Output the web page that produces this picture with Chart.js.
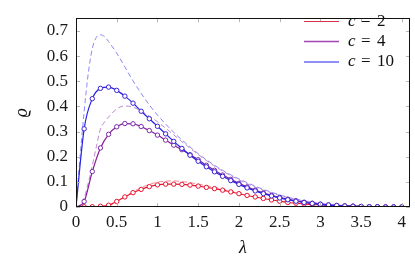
<!DOCTYPE html>
<html><head><meta charset="utf-8">
<script src="https://cdn.jsdelivr.net/npm/chart.js@4.4.1/dist/chart.umd.min.js"></script>
<style>html,body{margin:0;padding:0;background:#fff;overflow:hidden}#wrap{width:415px;height:259px;position:relative}
.fp{position:absolute;left:-999px;top:0;font-family:"Liberation Serif";font-size:16px}</style>
</head><body><div id="wrap"><canvas id="c" width="415" height="259"></canvas></div>
<span class="fp">0.5 c = 2</span><span class="fp" style="font-style:italic">c λ ϱ</span>
<script>
// ---- data ----
const lambda = [0,0.1,0.2,0.3,0.4,0.5,0.6,0.7,0.8,0.9,1.0,1.1,1.2,1.3,1.4,1.5,1.6,1.7,1.8,1.9,2.0,2.1,2.2,2.3,2.4,2.5,2.6,2.7,2.8,2.9,3.0,3.1,3.2,3.3,3.4,3.5,3.6,3.7,3.8,3.9,4.0];
const rhoC10 = [0,0.311,0.431,0.472,0.477,0.464,0.441,0.413,0.381,0.351,0.321,0.291,0.261,0.233,0.206,0.182,0.160,0.140,0.122,0.105,0.090,0.076,0.064,0.053,0.044,0.036,0.029,0.023,0.018,0.014,0.011,0.008,0.006,0.004,0.003,0.002,0.001,0.001,0,0,0];
const rhoC4 = [0,0.022,0.141,0.235,0.289,0.319,0.332,0.331,0.320,0.304,0.286,0.266,0.246,0.228,0.208,0.188,0.166,0.146,0.127,0.110,0.094,0.080,0.067,0.056,0.046,0.038,0.031,0.025,0.019,0.015,0.011,0.008,0.006,0.004,0.003,0.002,0.001,0.001,0,0,0];
const rhoC2 = [0,0.001,0.001,0.003,0.007,0.022,0.040,0.057,0.070,0.081,0.088,0.091,0.091,0.090,0.087,0.083,0.078,0.073,0.067,0.060,0.053,0.046,0.040,0.034,0.028,0.023,0.018,0.015,0.012,0.010,0.008,0.006,0.005,0.004,0.003,0.002,0.001,0.001,0,0,0];

const lambdaDash = [0,0.05,0.1,0.15,0.2,0.25,0.3,0.35,0.4,0.5,0.6,0.7,0.8,0.9,1.0,1.1,1.2,1.3,1.4,1.5,1.6,1.7,1.8,1.9,2.0,2.1,2.2,2.3,2.4,2.5,2.6,2.7,2.8,2.9,3.0,3.1,3.2,3.3,3.4,3.5,3.6,3.7,3.8,3.9,4.0];
const rhoC10Dash = [0,0.20,0.38,0.53,0.63,0.675,0.685,0.678,0.658,0.612,0.557,0.502,0.452,0.406,0.366,0.330,0.297,0.267,0.239,0.212,0.188,0.166,0.146,0.128,0.112,0.097,0.083,0.070,0.059,0.048,0.039,0.031,0.025,0.019,0.015,0.011,0.008,0.006,0.004,0.003,0.002,0.001,0.001,0,0];
const rhoC4Dash = [0,0.005,0.035,0.095,0.165,0.24,0.31,0.338,0.358,0.390,0.402,0.397,0.382,0.362,0.339,0.314,0.287,0.260,0.234,0.209,0.185,0.163,0.143,0.125,0.108,0.093,0.079,0.067,0.056,0.046,0.038,0.030,0.024,0.019,0.014,0.011,0.008,0.006,0.004,0.003,0.002,0.001,0.001,0,0];
const rhoC2Dash = [0,0,0,0,0,0,0.001,0.002,0.005,0.020,0.041,0.061,0.077,0.090,0.099,0.103,0.104,0.101,0.097,0.091,0.085,0.078,0.071,0.064,0.057,0.050,0.044,0.038,0.032,0.027,0.022,0.018,0.015,0.012,0.009,0.007,0.005,0.004,0.003,0.002,0.001,0.001,0,0,0];

const xTicks = [0,0.5,1,1.5,2,2.5,3,3.5,4];
const yTicks = [0,0.1,0.2,0.3,0.4,0.5,0.6,0.7];
const xTickLabels = ['0','0.5','1','1.5','2','2.5','3','3.5','4'];
const yTickLabels = ['0','0.1','0.2','0.3','0.4','0.5','0.6','0.7'];
const cValues = ['2','4','10'];
const xTitle = 'λ';
const yTitle = 'ϱ';

// ---- styles ----
const COL = {
  c10: '#2323e8', c10m: '#3a22d4', c10d: '#7c7cf2', c10l: '#8f8ff6',
  c4: '#861c99', c4m: '#7a2aa8', c4d: '#b77cc8', c4l: '#a446b4',
  c2: '#e8122e', c2m: '#e8122e', c2d: '#f07d8d', c2l: '#d9304a'
};
const serif = '"Liberation Serif", "DejaVu Serif", serif';

function pts(xs, ys){ return xs.map((x,i)=>({x:x, y:ys[i]})); }
function solid(label, ys, col, mcol, w){
  return {label, data: pts(lambda, ys), borderColor: col, borderWidth: w,
    pointRadius: c => c.dataIndex === 0 ? 0 : 2.2, pointBorderColor: mcol, pointBackgroundColor: '#fff',
    pointBorderWidth: 1, cubicInterpolationMode: 'monotone', fill: false};
}
function dashed(label, ys, col){
  return {label, data: pts(lambdaDash, ys), borderColor: col, borderWidth: 0.9, borderDash: [5,3],
    pointRadius: 0, cubicInterpolationMode: 'monotone', fill: false};
}

const frameTicks = {
  id: 'frameTicks',
  afterDatasetsDraw(chart){
    const {ctx, chartArea: a, scales: {x, y}} = chart;
    ctx.save();
    ctx.lineWidth = 1; ctx.strokeStyle = '#b8b8b8';
    const L = 4;
    ctx.beginPath();
    xTicks.forEach(v => { const p = Math.round(x.getPixelForValue(v)) + 0.5;
      ctx.moveTo(p, a.bottom); ctx.lineTo(p, a.bottom - L); ctx.moveTo(p, a.top); ctx.lineTo(p, a.top + L); });
    yTicks.forEach(v => { const p = Math.round(y.getPixelForValue(v)) + 0.5;
      ctx.moveTo(a.left, p); ctx.lineTo(a.left + L, p); ctx.moveTo(a.right, p); ctx.lineTo(a.right - L, p); });
    ctx.stroke();
    ctx.strokeStyle = '#111'; ctx.lineWidth = 1;
    ctx.strokeRect(Math.round(a.left) + 0.5, Math.round(a.top) + 0.5, Math.round(a.right - a.left) - 1, Math.round(a.bottom - a.top) - 1);
    ctx.restore();
  }
};

const texLegend = {
  id: 'texLegend',
  afterDraw(chart){
    const {ctx, chartArea: a} = chart;
    const items = [
      {v: cValues[0], col: COL.c2l, w: 1.0, y: 21.5},
      {v: cValues[1], col: COL.c4l, w: 1.6, y: 41.5},
      {v: cValues[2], col: COL.c10l, w: 1.8, y: 62}
    ];
    ctx.save();
    items.forEach(it => {
      ctx.strokeStyle = it.col; ctx.lineWidth = it.w;
      ctx.beginPath(); ctx.moveTo(a.right - 106, it.y); ctx.lineTo(a.right - 71, it.y); ctx.stroke();
      ctx.fillStyle = '#111'; ctx.textBaseline = 'middle'; ctx.textAlign = 'left';
      const x0 = a.right - 62;
      ctx.font = 'italic 17px ' + serif; ctx.fillText('c', x0, it.y);
      ctx.font = '17px ' + serif; ctx.fillText('=', x0 + 13, it.y);
      ctx.fillText(it.v, x0 + 29, it.y);
    });
    ctx.restore();
  }
};

function draw(){
  const old = Chart.getChart('c'); if (old) old.destroy();
  new Chart(document.getElementById('c'), {
  type: 'line',
  data: {
    datasets: [
      solid('c = 10', rhoC10, COL.c10, COL.c10m, 1.2),
      solid('c = 4', rhoC4, COL.c4, COL.c4m, 1.2),
      solid('c = 2', rhoC2, COL.c2, COL.c2m, 1.1),
      dashed('c = 10 (dashed)', rhoC10Dash, COL.c10d),
      dashed('c = 4 (dashed)', rhoC4Dash, COL.c4d),
      dashed('c = 2 (dashed)', rhoC2Dash, COL.c2d)
    ]
  },
  plugins: [frameTicks, texLegend],
  options: {
    responsive: false, devicePixelRatio: 1, animation: false,
    layout: {padding: {top: 1, right: 4, left: 0, bottom: 0}},
    plugins: {legend: {display: false}, tooltip: {enabled: false}},
    scales: {
      x: {
        type: 'linear', min: 0, max: 4.1,
        afterFit: s => { s.height = 52; },
        afterBuildTicks: s => { s.ticks = xTicks.map(v => ({value: v})); },
        grid: {display: false, drawTicks: false}, border: {display: false},
        ticks: {padding: 5, color: '#1a1a1a', font: {family: serif, size: 17},
          callback: (v) => xTickLabels[xTicks.indexOf(v)], maxRotation: 0, autoSkip: false},
        title: {display: true, text: xTitle, color: '#111', font: {family: serif, size: 18, style: 'italic'}, padding: {top: 0, bottom: 0}}
      },
      y: {
        type: 'linear', min: 0, max: 0.751,
        afterFit: s => { s.width = 76; },
        afterBuildTicks: s => { s.ticks = yTicks.map(v => ({value: v})); },
        grid: {display: false, drawTicks: false}, border: {display: false},
        ticks: {padding: 8, color: '#1a1a1a', font: {family: serif, size: 17},
          callback: (v) => yTickLabels[yTicks.indexOf(v)], autoSkip: false},
        title: {display: true, text: yTitle, color: '#111', font: {family: serif, size: 18, style: 'italic'}, padding: {top: 11, bottom: 0}}
      }
    }
  }
  });
}
draw();
if (document.fonts && document.fonts.load) {
  Promise.all([
    document.fonts.load('17px "Liberation Serif"'),
    document.fonts.load('italic 17px "Liberation Serif"')
  ]).then(draw, draw);
}
</script>
</body></html>
